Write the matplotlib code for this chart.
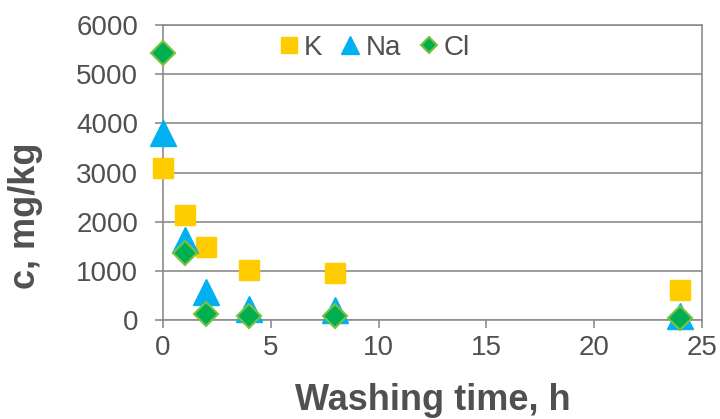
import matplotlib
matplotlib.use("Agg")
import matplotlib.pyplot as plt
from matplotlib.lines import Line2D

plt.rcParams["font.family"] = ["Liberation Sans", "DejaVu Sans"]

time_h = [0, 1, 2, 4, 8, 24]
k_vals = [3090, 2130, 1480, 1015, 955, 610]
na_vals = [3800, 1620, 570, 230, 210, 90]
cl_vals = [5430, 1360, 120, 80, 80, 50]

K_COL, NA_COL, CL_COL, CL_EDGE = "#FFCC00", "#00B0F0", "#00B050", "#7AC143"
TXT = "#505050"
AX_COL = "#8C8C8C"

fig = plt.figure(figsize=(7.2, 4.19), dpi=100)
ax = fig.add_axes([0.2264, 0.2363, 0.7486, 0.704])

ax.plot(time_h, k_vals, "s", color=K_COL, ms=14.5, mec=K_COL, clip_on=False, zorder=3)
ax.plot(time_h, na_vals, "^", color=NA_COL, ms=18.5, mec=NA_COL, clip_on=False, zorder=4)
ax.plot(time_h, cl_vals, "D", color=CL_COL, ms=12, mec=CL_EDGE, mew=1.5, clip_on=False, zorder=5)

ax.set_xlim(0, 25)
ax.set_ylim(0, 6000)
ax.set_xticks(range(0, 26, 5))
ax.set_yticks(range(0, 6001, 1000))
ax.yaxis.grid(True, color=AX_COL, lw=1.2)
ax.set_axisbelow(True)
for s in ax.spines.values():
    s.set_color(AX_COL)
    s.set_linewidth(1.2)
ax.tick_params(colors=AX_COL, labelcolor=TXT, labelsize=20, length=6, width=1.2)
ax.tick_params(axis="x", pad=5)
ax.tick_params(axis="y", pad=12)

ax.set_xlabel("Washing time, h", fontsize=26, fontweight="bold", color=TXT, labelpad=16)
ax.set_ylabel("c, mg/kg", fontsize=26, fontweight="bold", color=TXT)
ax.yaxis.set_label_coords(-0.223, 0.353)

handles = [
    Line2D([], [], ls="none", marker="s", color=K_COL, ms=12, mec=K_COL),
    Line2D([], [], ls="none", marker="^", color=NA_COL, ms=12.5, mec=NA_COL),
    Line2D([], [], ls="none", marker="D", color=CL_COL, ms=8.5, mec=CL_EDGE, mew=1.5),
]
ax.legend(handles, ["K", "Na", "Cl"], loc="center", bbox_to_anchor=(0.391, 0.922), ncol=3,
          frameon=False, fontsize=20, handletextpad=0.15, columnspacing=0.6,
          handlelength=0.8, borderaxespad=0, labelcolor=TXT)

fig.savefig("out.png", dpi=100)
